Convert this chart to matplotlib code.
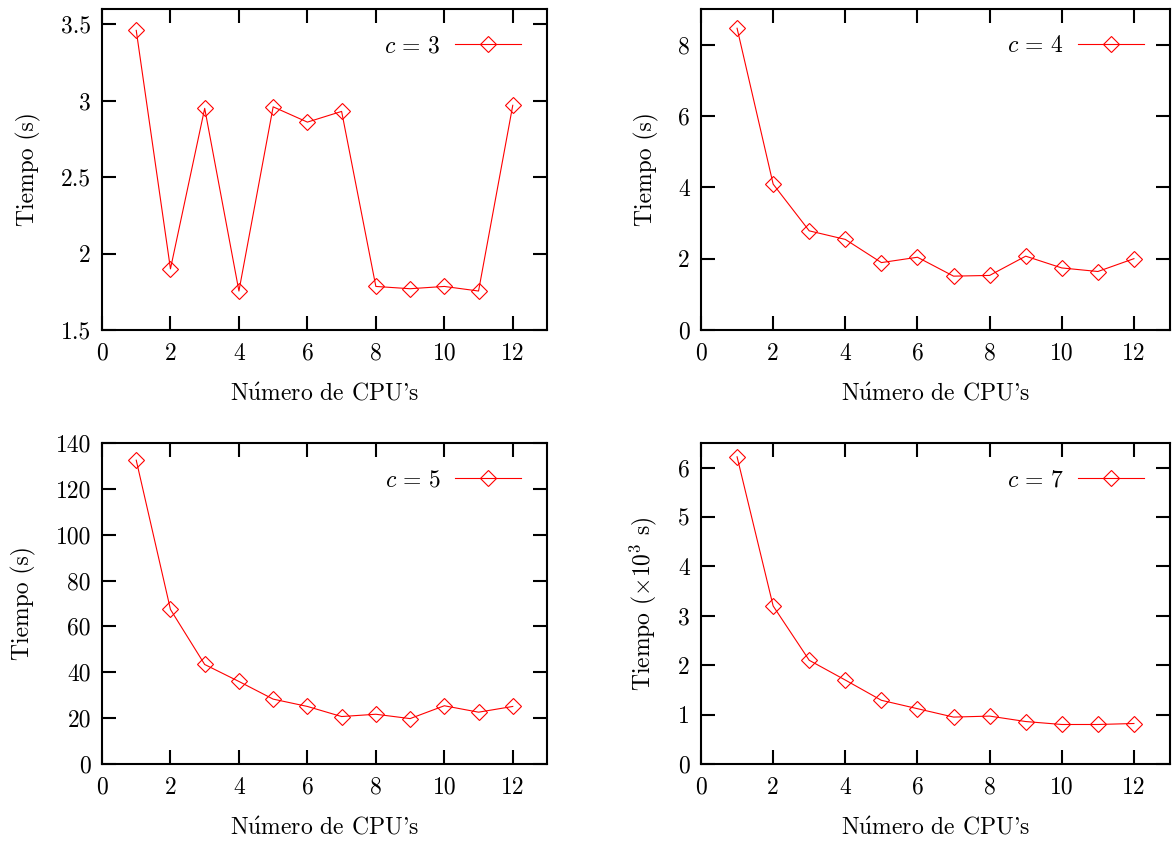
import numpy as np
import matplotlib
matplotlib.use("Agg")
import matplotlib.pyplot as plt
from matplotlib.ticker import FuncFormatter

plt.rcParams['font.family'] = ['cmr10', 'DejaVu Serif']
plt.rcParams['mathtext.fontset'] = 'cm'
plt.rcParams['axes.formatter.use_mathtext'] = True
plt.rcParams['axes.unicode_minus'] = False

cpus = [1, 2, 3, 4, 5, 6, 7, 8, 9, 10, 11, 12]
t_c3 = [3.46, 1.90, 2.95, 1.755, 2.96, 2.86, 2.93, 1.785, 1.77, 1.785, 1.755, 2.97]
t_c4 = [8.46, 4.09, 2.78, 2.54, 1.89, 2.04, 1.51, 1.53, 2.07, 1.74, 1.64, 2.00]
t_c5 = [132.5, 67.4, 43.4, 36.0, 28.3, 25.1, 20.7, 21.7, 19.8, 25.4, 22.6, 25.1]
t_c7 = [6.22, 3.20, 2.10, 1.70, 1.29, 1.12, 0.95, 0.97, 0.86, 0.80, 0.80, 0.82]

panels = [
    # data, label, ylim, yticks, ylabel, axes rect (pixels: left, top, width, height)
    (t_c3, r'$c\,=\,3$', (1.5, 3.6), [1.5, 2, 2.5, 3, 3.5], 'Tiempo (s)', (102, 9, 445, 321)),
    (t_c4, r'$c\,=\,4$', (0, 9), [0, 2, 4, 6, 8], 'Tiempo (s)', (701, 9, 469, 321)),
    (t_c5, r'$c\,=\,5$', (0, 140), list(range(0, 141, 20)), 'Tiempo (s)', (102, 443, 445, 321)),
    (t_c7, r'$c\,=\,7$', (0, 6.5), [0, 1, 2, 3, 4, 5, 6], r'Tiempo ($\times10^3$ s)', (701, 443, 469, 321)),
]

W, H = 1172, 849
fig = plt.figure(figsize=(W / 100, H / 100), dpi=100)
fs = 17

for data, lab, ylim, yticks, ylabel, (l, t, w, h) in panels:
    ax = fig.add_axes([l / W, 1 - (t + h) / H, w / W, h / H])
    ax.plot(cpus, data, color='red', lw=0.8, marker='D', markersize=8.5,
            markerfacecolor='none', markeredgecolor='red', markeredgewidth=0.8,
            label=lab)
    ax.set_xlim(0, 13)
    ax.set_ylim(*ylim)
    ax.set_xticks([0, 2, 4, 6, 8, 10, 12])
    ax.set_yticks(yticks)
    ax.yaxis.set_major_formatter(FuncFormatter(lambda v, p: '%g' % v))
    ax.xaxis.set_major_formatter(FuncFormatter(lambda v, p: '%g' % v))
    ax.tick_params(axis='both', direction='in', length=10, width=1.5, top=True, right=True,
                   labelsize=fs)
    ax.tick_params(axis='x', pad=9)
    ax.tick_params(axis='y', pad=8)
    for s in ax.spines.values():
        s.set_linewidth(1.5)
    ax.set_xlabel(r"N$\acute{\mathrm{u}}$mero de CPU's", fontsize=fs, labelpad=13)
    ax.set_ylabel(ylabel, fontsize=fs, labelpad=14)
    ax.legend(loc='upper right', frameon=False, markerfirst=False, fontsize=fs,
              handlelength=2.8, handletextpad=0.6, borderaxespad=0.9,
              borderpad=0.2)

fig.savefig('out.png', dpi=100)
